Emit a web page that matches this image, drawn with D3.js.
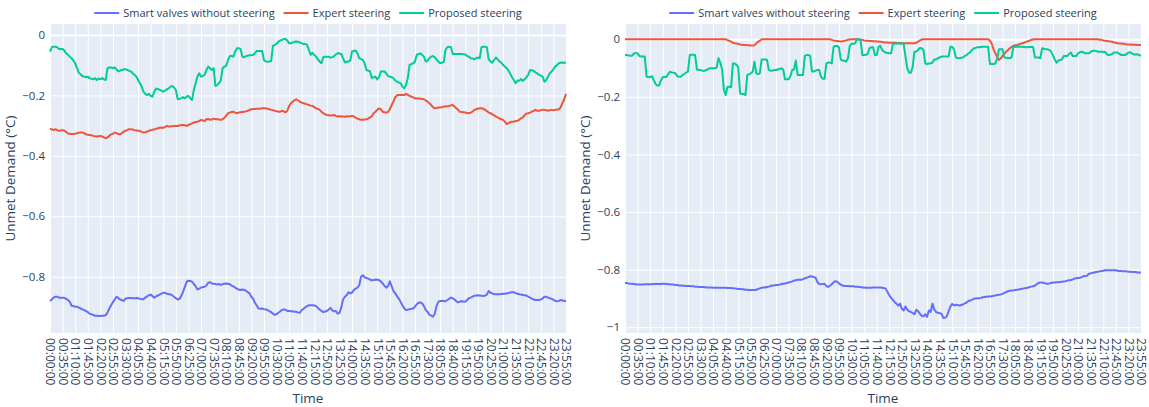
<!DOCTYPE html>
<html>
<head>
<meta charset="utf-8">
<script src="https://cdn.jsdelivr.net/npm/d3@7"></script>
<style>
  body { margin: 0; background: #fff; }
  text { font-family: "Open Sans", "DejaVu Sans", sans-serif; fill: #2a3f5f; }
</style>
</head>
<body>
<svg id="chart" width="1149" height="407"></svg>
<script>
const WIDTH = 1149, HEIGHT = 407;
const PLOT_TOP = 24, PLOT_BOTTOM = 333;

// 5-minute time slots over one day
const pad = n => String(n).padStart(2, '0');
const times = d3.range(288).map(i => `${pad(Math.floor(i * 5 / 60))}:${pad(i * 5 % 60)}:00`);

const tickLabels = [
  '00:00:00','00:35:00','01:10:00','01:45:00','02:20:00','02:55:00','03:30:00','04:05:00','04:40:00','05:15:00',
  '05:50:00','06:25:00','07:00:00','07:35:00','08:10:00','08:45:00','09:20:00','09:55:00','10:30:00','11:05:00',
  '11:40:00','12:15:00','12:50:00','13:25:00','14:00:00','14:35:00','15:10:00','15:45:00','16:20:00','16:55:00',
  '17:30:00','18:05:00','18:40:00','19:15:00','19:50:00','20:25:00','21:00:00','21:35:00','22:10:00','22:45:00',
  '23:20:00','23:55:00'
];

const seriesNames = ['Smart valves without steering', 'Expert steering', 'Proposed steering'];
const seriesColors = ['#636efa', '#EF553B', '#00cc96'];

// left chart
const leftSmart = [
  -0.880,-0.875,-0.869,-0.866,-0.866,-0.869,-0.869,-0.869,-0.870,-0.873,-0.877,-0.883,
  -0.896,-0.897,-0.899,-0.899,-0.902,-0.905,-0.908,-0.910,-0.914,-0.917,-0.922,-0.924,
  -0.926,-0.929,-0.929,-0.930,-0.930,-0.929,-0.929,-0.927,-0.918,-0.905,-0.894,-0.884,
  -0.875,-0.866,-0.870,-0.875,-0.877,-0.880,-0.872,-0.871,-0.870,-0.870,-0.871,-0.871,
  -0.870,-0.871,-0.873,-0.874,-0.874,-0.869,-0.865,-0.861,-0.859,-0.864,-0.869,-0.865,
  -0.862,-0.859,-0.856,-0.853,-0.853,-0.856,-0.858,-0.858,-0.862,-0.866,-0.871,-0.875,
  -0.873,-0.864,-0.850,-0.833,-0.817,-0.813,-0.814,-0.816,-0.824,-0.831,-0.842,-0.839,
  -0.836,-0.834,-0.833,-0.829,-0.820,-0.818,-0.822,-0.823,-0.824,-0.826,-0.824,-0.827,
  -0.824,-0.823,-0.822,-0.823,-0.825,-0.829,-0.832,-0.836,-0.840,-0.842,-0.844,-0.842,
  -0.844,-0.846,-0.851,-0.855,-0.866,-0.873,-0.886,-0.895,-0.905,-0.906,-0.905,-0.907,
  -0.908,-0.910,-0.914,-0.917,-0.922,-0.926,-0.924,-0.919,-0.915,-0.910,-0.908,-0.909,
  -0.913,-0.913,-0.914,-0.914,-0.916,-0.916,-0.918,-0.919,-0.910,-0.906,-0.901,-0.897,
  -0.894,-0.894,-0.894,-0.895,-0.897,-0.903,-0.908,-0.913,-0.917,-0.915,-0.913,-0.908,
  -0.903,-0.911,-0.914,-0.913,-0.922,-0.920,-0.902,-0.875,-0.866,-0.861,-0.851,-0.855,
  -0.852,-0.844,-0.839,-0.836,-0.828,-0.800,-0.795,-0.802,-0.804,-0.806,-0.809,-0.812,
  -0.811,-0.809,-0.810,-0.811,-0.815,-0.822,-0.829,-0.836,-0.831,-0.815,-0.831,-0.847,
  -0.855,-0.864,-0.872,-0.883,-0.894,-0.904,-0.910,-0.909,-0.907,-0.906,-0.905,-0.899,
  -0.891,-0.886,-0.885,-0.888,-0.897,-0.910,-0.916,-0.926,-0.928,-0.932,-0.922,-0.897,
  -0.883,-0.880,-0.880,-0.880,-0.881,-0.877,-0.873,-0.869,-0.871,-0.875,-0.881,-0.885,
  -0.882,-0.881,-0.882,-0.883,-0.877,-0.871,-0.869,-0.866,-0.863,-0.862,-0.861,-0.862,
  -0.863,-0.864,-0.862,-0.859,-0.847,-0.853,-0.855,-0.858,-0.858,-0.858,-0.858,-0.857,
  -0.856,-0.856,-0.855,-0.854,-0.852,-0.851,-0.851,-0.854,-0.856,-0.858,-0.859,-0.860,
  -0.861,-0.862,-0.866,-0.869,-0.872,-0.875,-0.877,-0.877,-0.877,-0.875,-0.872,-0.866,
  -0.866,-0.869,-0.871,-0.873,-0.876,-0.880,-0.881,-0.880,-0.877,-0.878,-0.880,-0.880
];
const leftExpert = [
  -0.311,-0.312,-0.315,-0.312,-0.315,-0.317,-0.316,-0.315,-0.317,-0.321,-0.326,-0.327,
  -0.328,-0.328,-0.327,-0.325,-0.324,-0.323,-0.323,-0.325,-0.329,-0.330,-0.331,-0.332,
  -0.334,-0.335,-0.336,-0.335,-0.334,-0.336,-0.339,-0.342,-0.339,-0.334,-0.329,-0.327,
  -0.323,-0.325,-0.328,-0.329,-0.325,-0.320,-0.317,-0.315,-0.312,-0.312,-0.313,-0.315,
  -0.316,-0.317,-0.318,-0.321,-0.323,-0.322,-0.320,-0.318,-0.315,-0.314,-0.312,-0.311,
  -0.309,-0.307,-0.306,-0.307,-0.305,-0.301,-0.303,-0.303,-0.302,-0.301,-0.301,-0.301,
  -0.300,-0.298,-0.298,-0.299,-0.301,-0.298,-0.295,-0.293,-0.290,-0.288,-0.287,-0.285,
  -0.281,-0.283,-0.285,-0.279,-0.278,-0.281,-0.280,-0.277,-0.278,-0.279,-0.280,-0.281,
  -0.279,-0.274,-0.268,-0.259,-0.257,-0.255,-0.254,-0.257,-0.259,-0.257,-0.256,-0.255,
  -0.254,-0.253,-0.251,-0.248,-0.246,-0.245,-0.245,-0.244,-0.244,-0.244,-0.243,-0.243,
  -0.243,-0.244,-0.246,-0.248,-0.249,-0.251,-0.252,-0.254,-0.254,-0.251,-0.253,-0.256,
  -0.251,-0.235,-0.226,-0.221,-0.216,-0.213,-0.217,-0.221,-0.224,-0.226,-0.228,-0.230,
  -0.232,-0.234,-0.235,-0.239,-0.243,-0.245,-0.248,-0.254,-0.259,-0.263,-0.265,-0.266,
  -0.267,-0.266,-0.265,-0.268,-0.270,-0.269,-0.270,-0.270,-0.271,-0.269,-0.270,-0.269,
  -0.268,-0.270,-0.274,-0.277,-0.279,-0.281,-0.281,-0.280,-0.279,-0.277,-0.273,-0.269,
  -0.259,-0.254,-0.248,-0.243,-0.246,-0.254,-0.256,-0.257,-0.255,-0.246,-0.232,-0.221,
  -0.206,-0.200,-0.199,-0.199,-0.198,-0.199,-0.195,-0.198,-0.202,-0.204,-0.207,-0.210,
  -0.210,-0.210,-0.211,-0.212,-0.213,-0.217,-0.221,-0.226,-0.232,-0.239,-0.243,-0.242,
  -0.240,-0.240,-0.239,-0.237,-0.237,-0.236,-0.235,-0.233,-0.232,-0.237,-0.243,-0.248,
  -0.254,-0.255,-0.256,-0.257,-0.258,-0.259,-0.257,-0.254,-0.248,-0.246,-0.244,-0.243,
  -0.243,-0.244,-0.248,-0.252,-0.257,-0.259,-0.263,-0.266,-0.270,-0.273,-0.276,-0.279,
  -0.281,-0.287,-0.295,-0.292,-0.289,-0.287,-0.287,-0.285,-0.284,-0.281,-0.276,-0.273,
  -0.265,-0.260,-0.259,-0.257,-0.254,-0.251,-0.248,-0.251,-0.251,-0.249,-0.248,-0.248,
  -0.249,-0.251,-0.249,-0.248,-0.249,-0.248,-0.247,-0.246,-0.240,-0.226,-0.213,-0.195
];
const leftProposed = [
  -0.055,-0.041,-0.039,-0.039,-0.041,-0.047,-0.047,-0.047,-0.052,-0.061,-0.066,-0.072,
  -0.077,-0.085,-0.094,-0.110,-0.125,-0.130,-0.136,-0.138,-0.140,-0.138,-0.143,-0.145,
  -0.147,-0.143,-0.149,-0.144,-0.147,-0.143,-0.147,-0.149,-0.110,-0.108,-0.108,-0.110,
  -0.108,-0.114,-0.121,-0.118,-0.116,-0.114,-0.114,-0.116,-0.119,-0.121,-0.127,-0.132,
  -0.138,-0.149,-0.160,-0.171,-0.188,-0.195,-0.199,-0.195,-0.202,-0.204,-0.188,-0.177,
  -0.179,-0.182,-0.184,-0.188,-0.184,-0.180,-0.177,-0.171,-0.169,-0.174,-0.182,-0.213,
  -0.211,-0.210,-0.206,-0.210,-0.204,-0.202,-0.210,-0.215,-0.182,-0.160,-0.138,-0.127,
  -0.138,-0.136,-0.132,-0.116,-0.105,-0.110,-0.116,-0.110,-0.169,-0.166,-0.160,-0.151,
  -0.110,-0.105,-0.103,-0.083,-0.070,-0.070,-0.072,-0.055,-0.044,-0.044,-0.047,-0.072,
  -0.074,-0.070,-0.069,-0.067,-0.067,-0.066,-0.061,-0.053,-0.053,-0.053,-0.053,-0.083,
  -0.088,-0.089,-0.088,-0.087,-0.036,-0.033,-0.030,-0.022,-0.019,-0.017,-0.014,-0.014,
  -0.019,-0.028,-0.028,-0.025,-0.023,-0.022,-0.023,-0.025,-0.028,-0.030,-0.030,-0.033,
  -0.050,-0.066,-0.059,-0.066,-0.072,-0.081,-0.088,-0.094,-0.074,-0.072,-0.072,-0.072,
  -0.075,-0.074,-0.070,-0.065,-0.061,-0.061,-0.064,-0.077,-0.091,-0.089,-0.088,-0.085,
  -0.055,-0.053,-0.052,-0.061,-0.077,-0.080,-0.083,-0.094,-0.116,-0.118,-0.121,-0.143,
  -0.140,-0.138,-0.147,-0.140,-0.121,-0.121,-0.121,-0.127,-0.136,-0.138,-0.140,-0.143,
  -0.151,-0.155,-0.158,-0.160,-0.171,-0.177,-0.166,-0.143,-0.099,-0.097,-0.094,-0.088,
  -0.066,-0.063,-0.061,-0.066,-0.072,-0.088,-0.085,-0.077,-0.072,-0.070,-0.074,-0.081,
  -0.088,-0.094,-0.092,-0.089,-0.050,-0.041,-0.039,-0.041,-0.063,-0.063,-0.063,-0.063,
  -0.063,-0.063,-0.064,-0.065,-0.070,-0.072,-0.077,-0.078,-0.081,-0.077,-0.075,-0.077,
  -0.041,-0.039,-0.039,-0.041,-0.081,-0.088,-0.092,-0.083,-0.075,-0.081,-0.088,-0.092,
  -0.099,-0.105,-0.110,-0.118,-0.129,-0.140,-0.149,-0.160,-0.151,-0.152,-0.146,-0.152,
  -0.147,-0.140,-0.132,-0.116,-0.117,-0.119,-0.124,-0.127,-0.132,-0.135,-0.138,-0.155,
  -0.149,-0.138,-0.127,-0.121,-0.114,-0.105,-0.100,-0.094,-0.092,-0.091,-0.092,-0.092
];

// right chart
const rightSmart = [
  -0.846,-0.846,-0.848,-0.849,-0.849,-0.850,-0.851,-0.852,-0.852,-0.852,-0.852,-0.851,
  -0.851,-0.851,-0.851,-0.851,-0.850,-0.850,-0.850,-0.850,-0.850,-0.849,-0.849,-0.850,
  -0.851,-0.851,-0.852,-0.852,-0.853,-0.853,-0.855,-0.855,-0.856,-0.856,-0.857,-0.857,
  -0.857,-0.858,-0.858,-0.859,-0.859,-0.860,-0.860,-0.860,-0.860,-0.862,-0.862,-0.862,
  -0.862,-0.863,-0.863,-0.863,-0.863,-0.863,-0.863,-0.863,-0.863,-0.864,-0.864,-0.864,
  -0.865,-0.865,-0.866,-0.867,-0.867,-0.868,-0.868,-0.870,-0.870,-0.871,-0.871,-0.871,
  -0.871,-0.870,-0.867,-0.865,-0.863,-0.862,-0.862,-0.860,-0.859,-0.857,-0.855,-0.855,
  -0.853,-0.853,-0.852,-0.850,-0.849,-0.848,-0.846,-0.845,-0.843,-0.841,-0.838,-0.837,
  -0.835,-0.835,-0.835,-0.833,-0.830,-0.828,-0.826,-0.823,-0.824,-0.826,-0.828,-0.843,
  -0.850,-0.851,-0.850,-0.849,-0.857,-0.860,-0.856,-0.851,-0.844,-0.840,-0.842,-0.847,
  -0.852,-0.855,-0.857,-0.857,-0.857,-0.858,-0.858,-0.858,-0.859,-0.859,-0.860,-0.860,
  -0.862,-0.862,-0.863,-0.863,-0.863,-0.863,-0.862,-0.862,-0.862,-0.862,-0.862,-0.863,
  -0.864,-0.866,-0.878,-0.889,-0.898,-0.905,-0.913,-0.918,-0.925,-0.918,-0.936,-0.942,
  -0.928,-0.939,-0.944,-0.947,-0.951,-0.955,-0.939,-0.944,-0.953,-0.960,-0.962,-0.955,
  -0.964,-0.942,-0.947,-0.918,-0.939,-0.947,-0.950,-0.951,-0.953,-0.967,-0.967,-0.962,
  -0.944,-0.928,-0.919,-0.924,-0.922,-0.923,-0.925,-0.923,-0.921,-0.917,-0.914,-0.909,
  -0.907,-0.905,-0.901,-0.900,-0.899,-0.899,-0.898,-0.896,-0.895,-0.894,-0.893,-0.893,
  -0.892,-0.891,-0.890,-0.888,-0.887,-0.886,-0.884,-0.881,-0.878,-0.875,-0.873,-0.872,
  -0.872,-0.871,-0.870,-0.869,-0.867,-0.866,-0.865,-0.864,-0.863,-0.860,-0.859,-0.858,
  -0.855,-0.851,-0.846,-0.845,-0.845,-0.846,-0.848,-0.849,-0.848,-0.846,-0.845,-0.845,
  -0.844,-0.844,-0.843,-0.842,-0.841,-0.840,-0.838,-0.837,-0.836,-0.834,-0.831,-0.830,
  -0.829,-0.828,-0.826,-0.823,-0.822,-0.821,-0.814,-0.813,-0.811,-0.810,-0.808,-0.807,
  -0.806,-0.805,-0.804,-0.802,-0.802,-0.802,-0.802,-0.802,-0.802,-0.802,-0.804,-0.805,
  -0.805,-0.806,-0.806,-0.806,-0.807,-0.807,-0.808,-0.808,-0.808,-0.810,-0.810,-0.810
];
const rightExpert = [
  0,0,0,0,0,0,0,0,0,0,0,0,
  0,0,0,0,0,0,0,0,0,0,0,0,
  0,0,0,0,0,0,0,0,0,0,0,0,
  0,0,0,0,0,0,0,0,0,0,0,0,
  0,0,0,0,0,0,0,0,0,-0.003,-0.005,-0.008,
  -0.012,-0.014,-0.015,-0.016,-0.018,-0.019,-0.020,-0.020,-0.021,-0.021,-0.022,-0.022,
  -0.021,-0.014,-0.009,-0.005,0,0,0,0,0,0,0,0,
  0,0,0,0,0,0,0,0,0,0,0,0,
  0,0,0,0,0,0,0,0,0,0,0,0,
  0,0,0,0,0,0,0,-0.002,-0.004,-0.005,-0.006,-0.007,
  -0.008,-0.007,-0.005,-0.004,-0.002,-0.001,0,0,0,0,-0.001,-0.002,
  -0.002,-0.004,-0.005,-0.005,-0.006,-0.006,-0.007,-0.007,-0.008,-0.008,-0.009,-0.009,
  -0.011,-0.011,-0.011,-0.012,-0.012,-0.012,-0.012,-0.013,-0.013,-0.013,-0.014,-0.014,
  -0.014,-0.014,-0.014,-0.014,-0.014,-0.014,-0.012,-0.008,-0.004,-0.001,0,0,
  0,0,0,0,0,0,0,0,0,0,0,0,
  0,0,0,0,0,0,0,0,0,0,0,0,
  0,0,0,0,0,0,0,0,0,0,0,-0.005,
  -0.016,-0.035,-0.049,-0.063,-0.072,-0.066,-0.058,-0.051,-0.043,-0.037,-0.031,-0.027,
  -0.023,-0.021,-0.020,-0.018,-0.016,-0.014,-0.012,-0.009,-0.007,-0.005,-0.002,-0.001,
  0,0,0,0,0,0,0,0,0,0,0,0,
  0,0,0,0,0,0,0,0,0,0,0,0,
  0,0,0,0,0,0,0,0,0,0,0,0,
  -0.002,-0.002,-0.004,-0.005,-0.006,-0.007,-0.008,-0.009,-0.011,-0.012,-0.014,-0.015,
  -0.015,-0.016,-0.016,-0.018,-0.018,-0.018,-0.019,-0.019,-0.019,-0.020,-0.020,-0.020
];
const rightProposed = [
  -0.055,-0.055,-0.056,-0.057,-0.057,-0.049,-0.049,-0.049,-0.058,-0.060,-0.060,-0.060,
  -0.130,-0.131,-0.132,-0.128,-0.142,-0.155,-0.161,-0.160,-0.142,-0.132,-0.130,-0.131,
  -0.121,-0.113,-0.115,-0.116,-0.118,-0.128,-0.130,-0.130,-0.124,-0.121,-0.115,-0.113,
  -0.055,-0.054,-0.054,-0.055,-0.105,-0.107,-0.107,-0.109,-0.110,-0.107,-0.105,-0.101,
  -0.101,-0.101,-0.101,-0.098,-0.066,-0.081,-0.105,-0.176,-0.194,-0.165,-0.165,-0.167,
  -0.084,-0.084,-0.089,-0.097,-0.188,-0.190,-0.190,-0.194,-0.124,-0.122,-0.118,-0.113,
  -0.078,-0.118,-0.121,-0.118,-0.070,-0.070,-0.070,-0.072,-0.107,-0.109,-0.109,-0.107,
  -0.107,-0.105,-0.103,-0.101,-0.105,-0.139,-0.139,-0.139,-0.128,-0.107,-0.105,-0.074,
  -0.124,-0.124,-0.124,-0.124,-0.058,-0.055,-0.055,-0.058,-0.112,-0.112,-0.109,-0.107,
  -0.107,-0.130,-0.137,-0.137,-0.084,-0.081,-0.081,-0.084,-0.026,-0.023,-0.023,-0.028,
  -0.070,-0.074,-0.075,-0.077,-0.066,-0.023,-0.016,-0.016,-0.014,0,0,-0.002,
  -0.055,-0.055,-0.054,-0.051,-0.031,-0.028,-0.028,-0.055,-0.055,-0.026,-0.023,-0.037,
  -0.043,-0.046,-0.048,-0.049,-0.049,-0.016,-0.016,-0.016,-0.014,-0.016,-0.014,-0.016,
  -0.060,-0.101,-0.116,-0.116,-0.095,-0.043,-0.043,-0.037,-0.030,-0.031,-0.037,-0.084,
  -0.086,-0.084,-0.084,-0.081,-0.070,-0.070,-0.066,-0.063,-0.060,-0.060,-0.060,-0.060,
  -0.060,-0.026,-0.026,-0.035,-0.063,-0.065,-0.066,-0.064,-0.063,-0.058,-0.055,-0.049,
  -0.045,-0.037,-0.032,-0.030,-0.028,-0.028,-0.027,-0.026,-0.026,-0.026,-0.026,-0.086,
  -0.086,-0.086,-0.084,-0.067,-0.035,-0.035,-0.035,-0.063,-0.064,-0.065,-0.066,-0.063,
  -0.028,-0.026,-0.026,-0.026,-0.026,-0.026,-0.027,-0.028,-0.028,-0.027,-0.026,-0.028,
  -0.063,-0.063,-0.063,-0.066,-0.031,-0.033,-0.035,-0.035,-0.037,-0.043,-0.055,-0.070,
  -0.081,-0.074,-0.072,-0.070,-0.058,-0.058,-0.058,-0.051,-0.046,-0.058,-0.058,-0.058,
  -0.049,-0.045,-0.043,-0.046,-0.049,-0.049,-0.049,-0.044,-0.040,-0.040,-0.041,-0.043,
  -0.043,-0.043,-0.043,-0.044,-0.052,-0.055,-0.054,-0.051,-0.046,-0.046,-0.046,-0.051,
  -0.055,-0.055,-0.055,-0.051,-0.046,-0.046,-0.049,-0.053,-0.053,-0.052,-0.055,-0.057
];

const leftTicks = [0, -0.2, -0.4, -0.6, -0.8];
const rightTicks = [0, -0.2, -0.4, -0.6, -0.8, -1];

const panels = [
  { x0: 50, x1: 566, yDomain: [-0.986, 0.036], yTicks: leftTicks, series: [leftSmart, leftExpert, leftProposed] },
  { x0: 625, x1: 1141, yDomain: [-1.02, 0.053], yTicks: rightTicks, series: [rightSmart, rightExpert, rightProposed] }
];

const svg = d3.select('#chart');
const fmt = d3.format('~g');

panels.forEach(p => {
  const x = d3.scalePoint().domain(times).range([p.x0, p.x1]);
  const y = d3.scaleLinear().domain(p.yDomain).range([PLOT_BOTTOM, PLOT_TOP]);
  const g = svg.append('g');

  g.append('rect')
    .attr('x', p.x0).attr('y', PLOT_TOP)
    .attr('width', p.x1 - p.x0).attr('height', PLOT_BOTTOM - PLOT_TOP)
    .attr('fill', '#E5ECF6');

  // x axis with vertical gridlines
  const xAxis = g.append('g')
    .attr('transform', `translate(0,${PLOT_BOTTOM})`)
    .call(d3.axisBottom(x).tickValues(tickLabels).tickSize(-(PLOT_BOTTOM - PLOT_TOP)));
  xAxis.select('.domain').remove();
  xAxis.selectAll('.tick line').attr('stroke', '#fff').attr('stroke-width', 1);
  xAxis.selectAll('.tick text')
    .attr('transform', 'rotate(90)')
    .attr('x', 5).attr('y', 0).attr('dy', '0.35em')
    .attr('text-anchor', 'start')
    .style('font-size', '12px');
  xAxis.attr('font-family', null).attr('font-size', null);

  // y axis with horizontal gridlines
  const yAxis = g.append('g')
    .attr('transform', `translate(${p.x0},0)`)
    .call(d3.axisLeft(y).tickValues(p.yTicks).tickFormat(fmt).tickSize(-(p.x1 - p.x0)).tickPadding(5));
  yAxis.select('.domain').remove();
  yAxis.selectAll('.tick line').attr('stroke', '#fff').attr('stroke-width', d => d === 0 ? 2 : 1);
  yAxis.selectAll('.tick text').style('font-size', '11.5px');
  yAxis.attr('font-family', null).attr('font-size', null);

  // traces
  const line = d3.line().x((d, i) => x(times[i])).y(d => y(d));
  p.series.forEach((s, k) => {
    g.append('path')
      .datum(s)
      .attr('fill', 'none')
      .attr('stroke', seriesColors[k])
      .attr('stroke-width', 2)
      .attr('stroke-linejoin', 'round')
      .attr('d', line);
  });

  // axis titles
  const cx = (p.x0 + p.x1) / 2;
  g.append('text')
    .attr('x', cx).attr('y', 403)
    .attr('text-anchor', 'middle')
    .style('font-size', '13.5px')
    .text('Time');
  g.append('text')
    .attr('transform', `translate(${p.x0 - 35},${(PLOT_TOP + PLOT_BOTTOM) / 2}) rotate(-90)`)
    .attr('text-anchor', 'middle')
    .style('font-size', '13.5px')
    .text('Unmet Demand (°C)');

  // legend, centred above the plot
  const legend = g.append('g').attr('transform', 'translate(0,13)');
  const items = legend.selectAll('g.item')
    .data(seriesNames)
    .enter()
    .append('g')
      .attr('class', 'item');
  items.append('line')
    .attr('x1', 0).attr('x2', 25).attr('y1', 0).attr('y2', 0)
    .attr('stroke', (d, i) => seriesColors[i])
    .attr('stroke-width', 2);
  items.append('text')
    .attr('x', 29).attr('dy', '0.35em')
    .style('font-size', '11px')
    .text(d => d);
  let offset = 0;
  const pos = [];
  items.each(function(){
    const w = this.querySelector('text').getComputedTextLength();
    pos.push(offset);
    offset += 29 + w + 9;
  });
  const total = offset - 9;
  items.attr('transform', (d, i) => `translate(${cx - total / 2 + pos[i]},0)`);
});
</script>
</body>
</html>
